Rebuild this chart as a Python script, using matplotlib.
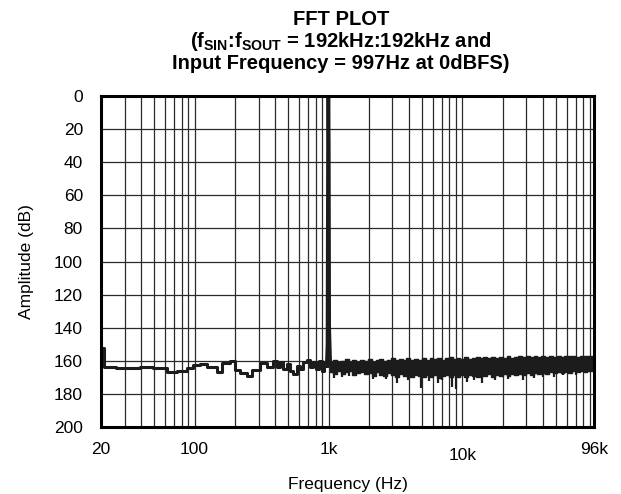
import matplotlib
matplotlib.use('Agg')
import matplotlib.pyplot as plt
from matplotlib.transforms import ScaledTranslation

# ---------------- data ----------------
x_tick_vals = [20, 100, 1000, 10000, 96000]
x_tick_labels = ["20", "100", "1k", "10k", "96k"]
y_tick_vals = [0, 20, 40, 60, 80, 100, 120, 140, 160, 180, 200]
y_tick_labels = [str(v) for v in y_tick_vals]

# low-frequency noise floor (step trace)
low_freq = [20, 21, 26, 39, 49, 62, 74, 87, 98, 110, 123, 146, 159, 184, 200,
            218, 245, 266, 308, 345, 387, 410, 435, 460, 488, 515, 546, 580,
            613, 650, 687, 730, 770, 810, 850, 890, 930, 970]
low_db = [152, 163.5, 164.5, 163.5, 164.5, 166.5, 166, 164.5, 162.5, 162,
          163.5, 166.5, 161.6, 160.2, 165.8, 167.4, 169.4, 165.4, 161.6, 163.5,
          160, 164, 161, 165, 162, 166, 168, 163, 165, 161, 159.6, 164, 161,
          165, 160, 166, 161, 163]

# fundamental tone at 997 Hz
tone_freq = [970, 982, 990, 997, 1004, 1012, 1030]
tone_db = [163, 150, 40, 0, 30, 140, 162]

# high-frequency noise band envelopes
band_freq = [1030, 1120, 1200, 1280, 1370, 1460, 1560, 1670, 1780, 1900, 2030,
             2170, 2320, 2480, 2650, 2830, 3020, 3230, 3450, 3690, 3940, 4210,
             4500, 4810, 5140, 5490, 5870, 6270, 6700, 7160, 7650, 8170, 8730,
             9330, 9970, 10650, 11380, 12160, 12990, 13880, 14830, 15850, 16930,
             18090, 19330, 20650, 22070, 23580, 25190, 26920, 28760, 30730,
             32830, 35080, 37480, 40050, 42790, 45720, 48850, 52190, 55770,
             59590, 63660, 68020, 72680, 77650, 82970, 88650, 94720, 96000]
band_top = [160.5, 159.5, 161, 160, 159, 160.5, 159.8, 160.8, 159.5, 160.2,
            159.2, 160.5, 159.6, 158.8, 160, 159.4, 158.6, 159.8, 158.9, 159.6,
            158.4, 159.5, 158.7, 159.3, 158.2, 159.4, 158.6, 159.1, 158.3, 159.4,
            158.5, 157.9, 159, 158.3, 158.8, 157.8, 158.9, 158.2, 157.6, 158.6,
            157.9, 158.4, 157.5, 158.5, 157.8, 158.2, 157.2, 158.1, 157.6, 157.1,
            158, 157.3, 157.8, 157, 157.6, 157.1, 157.7, 156.9, 157.5, 157,
            157.6, 156.8, 157.4, 157, 157.5, 156.9, 157.4, 157, 157.3, 157.3]
band_bot = [166.5, 167.8, 166.2, 168.2, 167, 166.4, 168.5, 167.2, 166.6, 168,
            167.4, 168.9, 167, 168.3, 169.2, 167.6, 168.8, 169.5, 168, 169.2,
            168.4, 169.8, 168.6, 169.4, 170, 168.5, 169.6, 168.8, 170.2, 169,
            168.4, 169.8, 168.7, 169.5, 168.8, 169.9, 168.6, 169.4, 170, 168.9,
            169.3, 168.2, 169.6, 168.7, 169.1, 168.1, 168.9, 167.9, 168.6, 167.8,
            168.7, 167.6, 168.3, 167.5, 168.1, 167.2, 167.9, 167, 167.6, 166.8,
            167.4, 166.6, 167.1, 166.4, 166.9, 166.2, 166.6, 166, 166.3, 166.3]

# isolated deeper dips in the noise band
dip_freq = [1100, 1255, 1420, 2150, 2700, 3230, 3900, 4880, 5600, 6610, 7070,
            8400, 8960, 10800, 12200, 13940, 17530, 22000, 28370, 34000, 40000,
            48000, 56400, 70000]
dip_db = [170.5, 169.8, 169.2, 170.8, 171.2, 173.5, 171.6, 176.6, 172.4, 173.5,
          171.6, 175.6, 177, 172.6, 171.8, 173.6, 171.6, 170.8, 171.5, 170.4,
          169.6, 169.8, 168.6, 168.8]

# ---------------- fonts ----------------
base_font = 'Liberation Sans'
plt.rcParams['font.family'] = [base_font, 'DejaVu Sans']
plt.rcParams['mathtext.fontset'] = 'custom'
plt.rcParams['mathtext.rm'] = base_font
plt.rcParams['mathtext.bf'] = base_font + ':bold'
plt.rcParams['mathtext.it'] = base_font + ':italic'

# ---------------- figure ----------------
fig = plt.figure(figsize=(6.21, 4.94), dpi=100)
ax = fig.add_axes([101 / 621, 1 - 427 / 494, 493 / 621, 331 / 494])
ax.set_xscale('log')
ax.set_xlim(20, 96000)
ax.set_ylim(200, 0)

# grid
grid_x = [m * 10 ** e for e in (1, 2, 3, 4) for m in range(1, 10)
          if 20 < m * 10 ** e < 96000]
for gx in grid_x:
    ax.axvline(gx, color='#2a2a2a', lw=0.9, zorder=1)
for gy in y_tick_vals[1:-1]:
    ax.axhline(gy, color='#2a2a2a', lw=0.9, zorder=1)

# data
ax.fill_between(band_freq, band_top, band_bot, step='mid',
                color='#1c1c1c', lw=0, zorder=3)
ax.step(band_freq, band_top, where='mid', color='#1c1c1c', lw=1.0, zorder=3)
ax.step(band_freq, band_bot, where='mid', color='#1c1c1c', lw=1.0, zorder=3)
ax.vlines(dip_freq, 165, dip_db, color='#1c1c1c', lw=1.6, zorder=3)
ax.step(low_freq, low_db, where='post', color='#1c1c1c', lw=2.2, zorder=3)
ax.plot(tone_freq, tone_db, color='#1c1c1c', lw=2.6, zorder=4)

# ticks
ax.set_xticks(x_tick_vals)
ax.set_xticklabels(x_tick_labels)
ax.minorticks_off()
ax.set_yticks(y_tick_vals)
ax.set_yticklabels(y_tick_labels)
ax.tick_params(axis='both', length=0, labelsize=12.5, colors='black')
ax.tick_params(axis='x', pad=11)
ax.tick_params(axis='y', pad=13)

for lab in ax.get_xticklabels():
    if lab.get_text() == "10k":
        lab.set_transform(lab.get_transform() +
                          ScaledTranslation(0, -4 / 72, fig.dpi_scale_trans))

for sp in ax.spines.values():
    sp.set_linewidth(2.2)
    sp.set_color('black')
    sp.set_zorder(5)

ax.set_xlabel('Frequency (Hz)', fontsize=12.5, labelpad=10)
ax.set_ylabel('Amplitude (dB)', fontsize=12.5, labelpad=14)

# title (three bold lines)
cx = 341 / 621
tkw = dict(ha='center', va='baseline', fontsize=14.5, fontweight='bold')
fig.text(cx, 1 - 25 / 494, 'FFT PLOT', **tkw)
fig.text(cx, 1 - 47 / 494,
         r'($\mathbf{f}_{\mathbf{SIN}}$:$\mathbf{f}_{\mathbf{SOUT}}$ = 192kHz:192kHz and',
         **tkw)
fig.text(cx, 1 - 69 / 494, 'Input Frequency = 997Hz at 0dBFS)', **tkw)

fig.savefig('out.png', dpi=100)
